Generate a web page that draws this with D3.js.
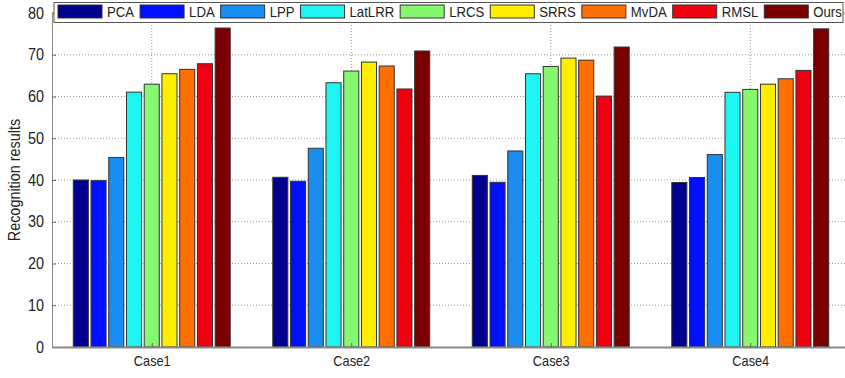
<!DOCTYPE html>
<html><head><meta charset="utf-8">
<script src="https://cdn.jsdelivr.net/npm/d3@7"></script>
<style>body{margin:0;background:#fff}svg{display:block}text{font-family:"Liberation Sans",Arial,sans-serif;fill:#222}</style>
</head><body><div id="c"></div>
<script>
const categories = ["Case1","Case2","Case3","Case4"];
const methods = ["PCA","LDA","LPP","LatLRR","LRCS","SRRS","MvDA","RMSL","Ours"];
const colors = ["#00008f","#0010ff","#1a8ef0","#1ff5f0","#86f870","#ffee00","#ff7000","#ee0010","#7a0000"];
const PCA    = [40.0, 40.65, 41.1, 39.4];
const LDA    = [39.85, 39.7, 39.45, 40.6];
const LPP    = [45.4, 47.6, 46.95, 46.1];
const LatLRR = [61.05, 63.3, 65.45, 61.0];
const LRCS   = [62.95, 66.1, 67.2, 61.7];
const SRRS   = [65.45, 68.25, 69.2, 62.95];
const MvDA   = [66.5, 67.3, 68.7, 64.25];
const RMSL   = [67.85, 61.8, 60.1, 66.25];
const Ours   = [76.4, 70.9, 71.85, 76.2];
const series = [PCA,LDA,LPP,LatLRR,LRCS,SRRS,MvDA,RMSL,Ours];
const yTicks = [0,10,20,30,40,50,60,70,80];
const yLabel = "Recognition results";

const W=845,H=378;
const m={l:52,t:13,r:-5,b:31};
const svg=d3.select("#c").append("svg").attr("width",W).attr("height",H);
const x=d3.scaleLinear().domain([0.5,4.5]).range([m.l,W-m.r]);
const y=d3.scaleLinear().domain([0,80]).range([H-m.b,m.t]);
const groupW=0.8, step=groupW/methods.length;
function condense(sel,f){sel.each(function(){const w=this.getComputedTextLength();d3.select(this).attr("textLength",w*f).attr("lengthAdjust","spacingAndGlyphs");});}

// grid
const g=svg.append("g");
g.selectAll(".hg").data(yTicks.filter(d=>d>0&&d<80)).join("line")
 .attr("x1",x(0.5)).attr("x2",x(4.5)).attr("y1",d=>y(d)).attr("y2",d=>y(d))
 .attr("stroke","#999").attr("stroke-width",1).attr("stroke-dasharray","1,2");
g.selectAll(".vg").data(categories).join("line")
 .attr("x1",(d,i)=>x(i+1)).attr("x2",(d,i)=>x(i+1)).attr("y1",y(0)).attr("y2",y(80))
 .attr("stroke","#999").attr("stroke-width",1).attr("stroke-dasharray","1,2");

// bars
series.forEach((s,j)=>{
  svg.append("g").selectAll("rect").data(s).join("rect")
   .attr("x",(d,i)=>x(i+1-groupW/2+step*j+step*0.075))
   .attr("width",x(step*0.85)-x(0))
   .attr("y",d=>y(d)).attr("height",d=>y(0)-y(d))
   .attr("fill",colors[j]).attr("stroke","#333").attr("stroke-width",1);
});

// axes
const ya=svg.append("g").attr("transform",`translate(${m.l},0)`)
 .call(d3.axisLeft(y).tickValues(yTicks).tickSizeInner(-4).tickSizeOuter(0).tickPadding(8));
ya.select(".domain").attr("stroke","#888");
ya.selectAll(".tick line").attr("stroke","#666");
ya.selectAll("text").attr("font-size",16).style("fill","#222");
condense(ya.selectAll("text"),0.9);
const xa=svg.append("g").attr("transform",`translate(0,${y(0)})`)
 .call(d3.axisBottom(x).tickValues([1,2,3,4]).tickFormat((d,i)=>categories[i]).tickSizeInner(-4).tickSizeOuter(0).tickPadding(8));
xa.select(".domain").attr("stroke","#888").attr("stroke-width",2);
xa.selectAll(".tick line").attr("stroke","#666");
xa.selectAll("text").attr("font-size",15).style("fill","#222");
condense(xa.selectAll("text"),0.85);
svg.append("line").attr("x1",m.l).attr("x2",W).attr("y1",m.t).attr("y2",m.t).attr("stroke","#888");

const yl=svg.append("text").attr("transform",`translate(20,${(m.t+y(0))/2}) rotate(-90)`)
 .attr("text-anchor","middle").attr("font-size",16).text(yLabel);
condense(yl,0.9);

// legend
const lg=svg.append("g");
lg.append("rect").attr("x",54).attr("y",2.5).attr("width",789).attr("height",20)
 .attr("fill","#fff").attr("stroke","#555");
let lx=58;
methods.forEach((mname,j)=>{
  lg.append("rect").attr("x",lx).attr("y",5).attr("width",44).attr("height",13)
   .attr("fill",colors[j]).attr("stroke","#333");
  const t=lg.append("text").attr("x",lx+49).attr("y",17).attr("font-size",14).text(mname);
  const w=t.node().getComputedTextLength()*0.94;
  t.attr("textLength",w).attr("lengthAdjust","spacingAndGlyphs");
  lx+=49+w+6;
});
</script></body></html>
